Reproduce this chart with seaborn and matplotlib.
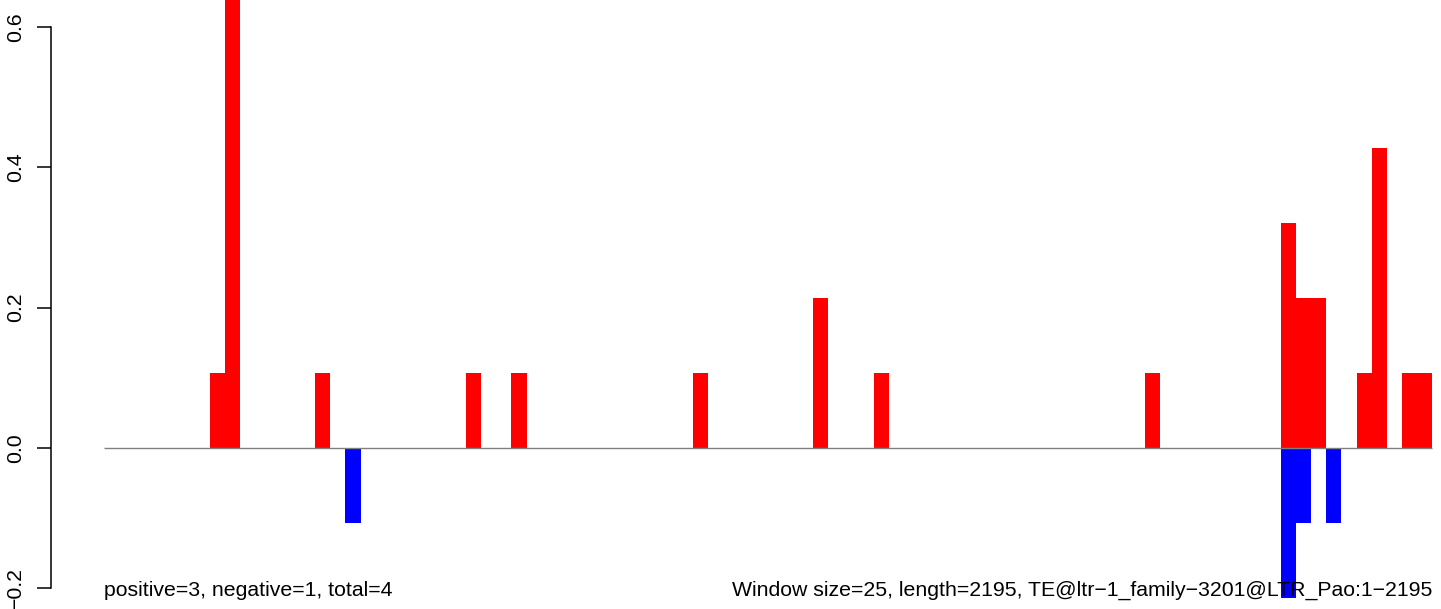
# ==========================================
# Sliding-window bar chart (positive / negative per window)
# ==========================================

import numpy as np
import pandas as pd
import seaborn as sns
import matplotlib.pyplot as plt

# Data
n_windows = 88                       # 2195 bp / window size 25
pos_windows = [7, 8, 14, 24, 27, 39, 47, 51, 69, 78, 79, 80, 83, 84, 86, 87]
pos_values = [0.107, 0.75, 0.107, 0.107, 0.107, 0.107, 0.213, 0.107, 0.107,
              0.32, 0.213, 0.213, 0.107, 0.427, 0.107, 0.107]
neg_windows = [16, 78, 79, 81]
neg_values = [-0.107, -0.213, -0.107, -0.107]

y_ticks = [-0.2, 0.0, 0.2, 0.4, 0.6]
y_tick_labels = ['\u22120.2', '0.0', '0.2', '0.4', '0.6']

left_note = 'positive=3, negative=1, total=4'
right_note = ('Window size=25, length=2195, '
              'TE@ltr\u22121_family\u22123201@LTR_Pao:1\u22122195')

# Build the table for seaborn
pos = np.zeros(n_windows)
pos[pos_windows] = pos_values
neg = np.zeros(n_windows)
neg[neg_windows] = neg_values
df = pd.DataFrame({'window': np.arange(n_windows), 'pos': pos, 'neg': neg})

# ==========================================
# Plot
# ==========================================
sns.set_style('white')
plt.rcParams['font.family'] = ['Liberation Sans', 'DejaVu Sans']
plt.rcParams['text.color'] = 'black'

W, H = 1441, 609
AX_LEFT = 51                         # pixel column of the y axis line
fig = plt.figure(figsize=(W / 100, H / 100), dpi=100)
ax = fig.add_axes([AX_LEFT / W, 0, (W - AX_LEFT) / W, 1])

sns.barplot(data=df, x='window', y='pos', color='#FF0000', width=1.0,
            saturation=1, linewidth=0, ax=ax)
sns.barplot(data=df, x='window', y='neg', color='#0000FF', width=1.0,
            saturation=1, linewidth=0, ax=ax)

# bars are allowed to run past the plot region, like R's xpd=TRUE
for p in ax.patches:
    p.set_clip_on(False)

ax.hlines(0, -0.5, n_windows - 0.5, color='#808080', linewidth=1)

bar_px = (1432 - 104) / n_windows
ax.set_xlim(-0.5 - (104 - AX_LEFT) / bar_px,
            n_windows - 0.5 + (W - 1432) / bar_px)
ax.set_ylim(-(H - 448) / 702, 448 / 702)

ax.set_xticks([])
ax.set_xlabel('')
ax.set_ylabel('')
ax.set_yticks(y_ticks)
ax.set_yticklabels(y_tick_labels, rotation=90, va='center', fontsize=15.3,
                   color='black')
ax.tick_params(axis='y', direction='out', length=10, width=1.1, pad=8.5,
               left=True, colors='black')
for side in ['top', 'right', 'bottom']:
    ax.spines[side].set_visible(False)
ax.spines['left'].set_bounds(-0.2, 0.6)
ax.spines['left'].set_linewidth(1.1)
ax.spines['left'].set_color('black')

ax.text(-0.5, -0.203, left_note, ha='left', va='center', fontsize=15.3,
        color='black')
ax.text(n_windows - 0.5, -0.203, right_note, ha='right', va='center',
        fontsize=15.3, color='black')

fig.savefig('out.png', dpi=100)
